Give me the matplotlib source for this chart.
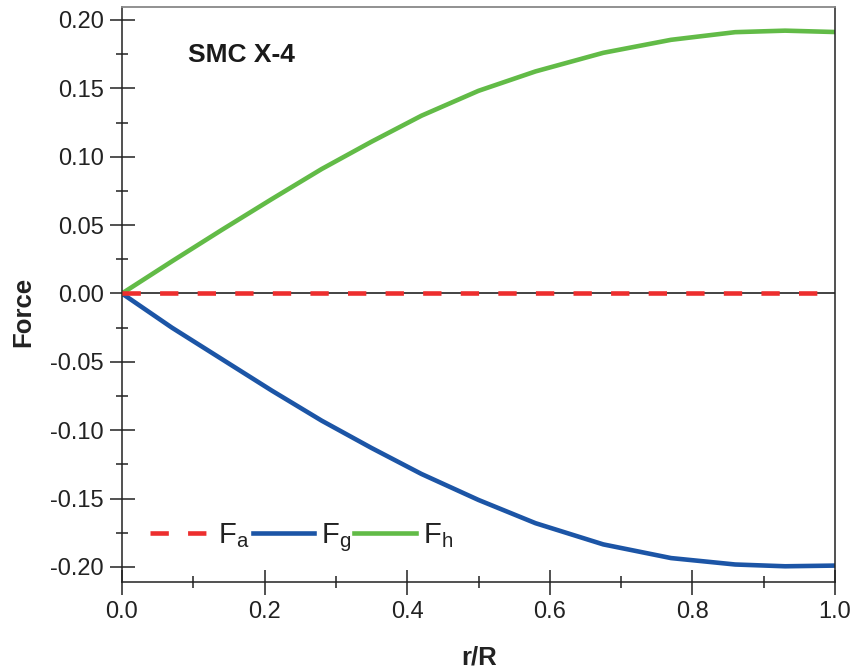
import matplotlib
matplotlib.use("Agg")
import matplotlib.pyplot as plt
from matplotlib.ticker import MultipleLocator, FormatStrFormatter

plt.rcParams['font.family'] = ['Liberation Sans', 'DejaVu Sans']
plt.rcParams['axes.unicode_minus'] = False
plt.rcParams['mathtext.fontset'] = 'custom'
plt.rcParams['mathtext.rm'] = 'Liberation Sans'

# Data
r_a = [0.0, 1.0]
F_a = [0.0, 0.0]

r_g = [0.0, 0.07, 0.14, 0.21, 0.28, 0.35, 0.42, 0.5, 0.58, 0.675, 0.77,
       0.86, 0.93, 1.0]
F_g = [0.0, -0.025, -0.048, -0.071, -0.093, -0.113, -0.132, -0.151, -0.168,
       -0.1835, -0.1935, -0.1982, -0.1995, -0.199]

r_h = [0.0, 0.07, 0.14, 0.21, 0.28, 0.35, 0.42, 0.5, 0.58, 0.675, 0.77,
       0.86, 0.93, 1.0]
F_h = [0.0, 0.0235, 0.0465, 0.069, 0.091, 0.111, 0.130, 0.1482, 0.1624,
       0.176, 0.1855, 0.1911, 0.1922, 0.1912]

labels = ['F$_{\\mathregular{a}}$', 'F$_{\\mathregular{g}}$', 'F$_{\\mathregular{h}}$']
title = 'SMC X-4'

fig = plt.figure(figsize=(8.56, 6.70), dpi=100)
ax = fig.add_axes([122/856, 1-582/670, 713/856, 575/670])

ax.axhline(0, color='#222222', lw=1.2, zorder=1)
la, = ax.plot(r_a, F_a, color='#ED2E2E', lw=3.3, dashes=(4.0, 4.2), zorder=3,
              label=labels[0])
lg, = ax.plot(r_g, F_g, color='#1C55A6', lw=3.3, zorder=2, label=labels[1],
              solid_joinstyle='round')
lh, = ax.plot(r_h, F_h, color='#62BB47', lw=3.3, zorder=2, label=labels[2],
              solid_joinstyle='round')

ax.set_xlim(0, 1)
ax.set_ylim(-0.211, 0.2095)

ax.xaxis.set_major_locator(MultipleLocator(0.2))
ax.xaxis.set_minor_locator(MultipleLocator(0.1))
ax.yaxis.set_major_locator(MultipleLocator(0.05))
ax.yaxis.set_minor_locator(MultipleLocator(0.025))
ax.xaxis.set_major_formatter(FormatStrFormatter('%.1f'))
ax.yaxis.set_major_formatter(FormatStrFormatter('%.2f'))

ax.tick_params(which='major', direction='inout', length=18, width=1.1,
               color='#222222', labelsize=17, labelcolor='#222222',
               top=False, right=False)
ax.tick_params(which='minor', direction='inout', length=9, width=1.1,
               color='#222222', top=False, right=False)
ax.tick_params(axis='x', which='major', pad=5)
ax.tick_params(axis='y', which='major', pad=4)

for s in ['left', 'bottom', 'right']:
    ax.spines[s].set_color('#222222')
    ax.spines[s].set_linewidth(1.1)
ax.spines['top'].set_color('#888888')
ax.spines['top'].set_linewidth(1.3)

ax.set_xlabel('r/R', fontsize=18.5, fontweight='bold', color='#222222')
ax.set_ylabel('Force', fontsize=18.5, fontweight='bold', color='#222222')
ax.xaxis.set_label_coords(0.501, -0.11)
ax.yaxis.set_label_coords(-0.122, 0.47)

ax.text(0.0926, 0.904, title, transform=ax.transAxes, fontsize=19,
        fontweight='bold', color='#1a1a1a', va='baseline', ha='left')

leg = ax.legend(handles=[la, lg, lh], loc='center left',
                bbox_to_anchor=(0.039, 0.078), ncol=3, frameon=False,
                fontsize=21, handlelength=2.1, handletextpad=0.25,
                columnspacing=0.1, borderpad=0, borderaxespad=0)
for t in leg.get_texts():
    t.set_color('#222222')

fig.savefig('out.png', dpi=100)
